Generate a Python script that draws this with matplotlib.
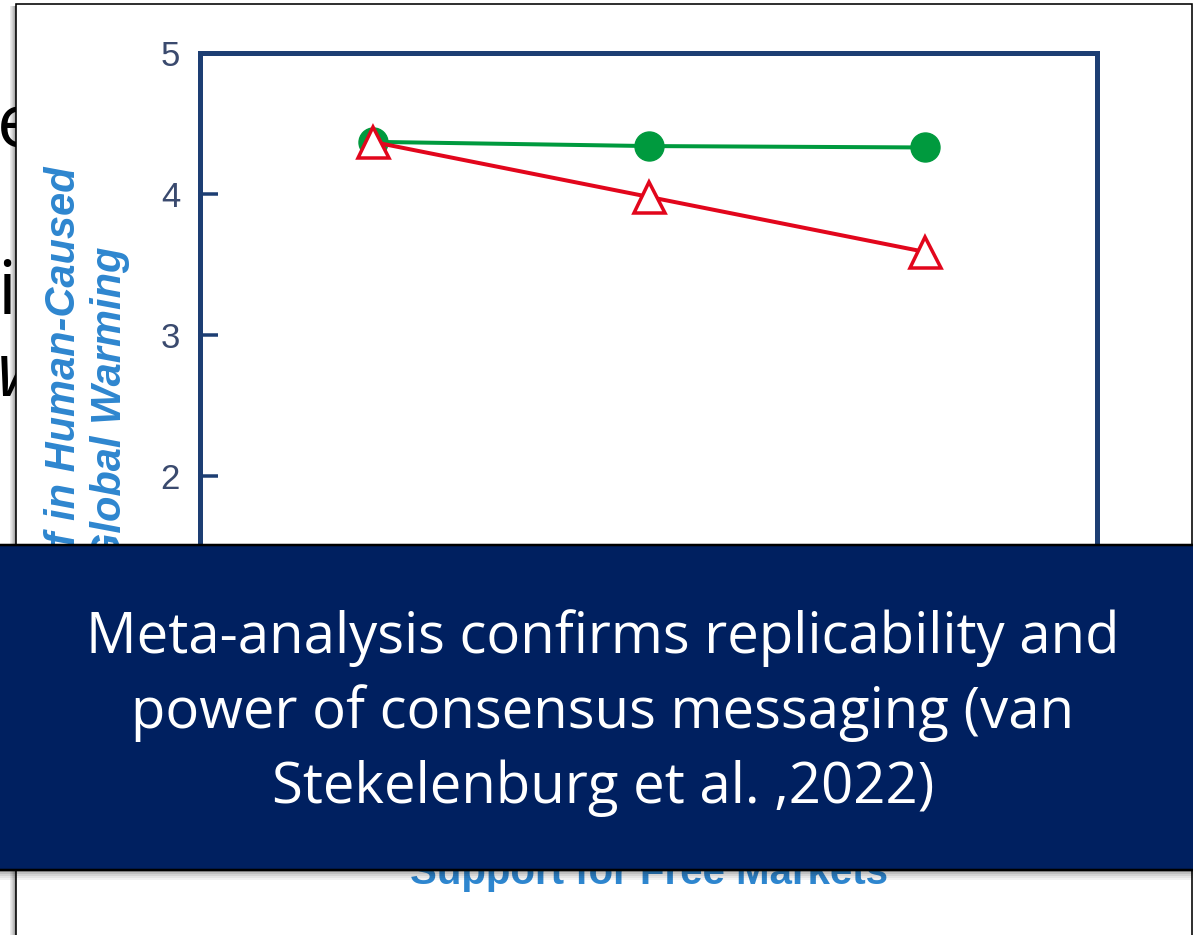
import matplotlib
matplotlib.use("Agg")
import matplotlib.pyplot as plt
from matplotlib.patches import Rectangle

# ---- data ----
categories = ["Low", "Moderate", "High"]
consensus_values = [4.37, 4.34, 4.33]      # green circles
control_values = [4.37, 3.98, 3.59]        # red open triangles
y_ticks = [1, 2, 3, 4, 5]
y_label = "Belief in Human-Caused\nGlobal Warming"
x_label = "Support for Free Markets"
banner_lines = ["Meta-analysis confirms replicability and",
                "power of consensus messaging (van",
                "Stekelenburg et al. ,2022)"]
slide_fragments = [("e", 148, "normal"), ("i", 314, "normal"), ("w", 396, "italic")]

W, H = 1193, 935
fig = plt.figure(figsize=(W / 100, H / 100), dpi=100)
fig.patch.set_facecolor("white")

def fx(px):
    return px / W

def fy(py):
    return 1 - py / H

PT = 0.72  # points per pixel at dpi 100

# slide text behind the picture box
for ch, base, style in slide_fragments:
    fig.text(fx(-3), fy(base), ch, fontsize=54, family="Open Sans", style=style,
             color="black", va="baseline", ha="left", zorder=-3)

# shadow of the picture box
for i, a in enumerate([0.08, 0.12, 0.18, 0.25, 0.32, 0.4]):
    fig.patches.append(Rectangle((fx(10 + i), -0.05), fx(1), fy(6) + 0.05,
                                 transform=fig.transFigure, facecolor="black",
                                 alpha=a, edgecolor="none", zorder=-2.5))
# picture box
fig.patches.append(Rectangle((fx(16), -0.05), fx(1192 - 16), fy(4) + 0.05,
                             transform=fig.transFigure, facecolor="white",
                             edgecolor="black", linewidth=1.6 * PT, zorder=-2))

# ---- chart ----
ax = fig.add_axes([fx(200), fy(758), fx(1097) - fx(200), fy(53) - fy(758)])
ax.set_zorder(1)
ax.patch.set_alpha(0)
xs = list(range(len(categories)))

ax.plot(xs, consensus_values, color="#009a3e", linewidth=4 * PT, marker="o",
        markersize=29 * PT, markerfacecolor="#009a3e", markeredgecolor="#009a3e",
        zorder=3)
ax.plot(xs, control_values, color="#e2061c", linewidth=4 * PT, marker="^",
        markersize=31 * PT, markerfacecolor="white", markeredgecolor="#e2061c",
        markeredgewidth=3.5 * PT, zorder=4)

ax.set_xlim(-0.625, 2.625)
ax.set_ylim(0, 5)
ax.set_yticks(y_ticks)
ax.set_xticks(xs)
ax.set_xticklabels(categories)
spine_c = "#1d3e73"
for s in ax.spines.values():
    s.set_color(spine_c)
    s.set_linewidth(5 * PT)
ax.tick_params(axis="both", direction="in", length=18 * PT, width=3.5 * PT,
               color=spine_c, labelsize=25, labelcolor="#3a4a6e", pad=20 * PT)
for lab in ax.get_yticklabels() + ax.get_xticklabels():
    lab.set_family("Liberation Sans")

ax.set_ylabel(y_label, fontsize=30, fontweight="bold", style="italic",
              family="Liberation Sans", color="#2e86cf", linespacing=1.2)
ax.yaxis.set_label_coords((130 - 200) / 897, 0.5)
ax.set_xlabel(x_label, fontsize=29, fontweight="bold", family="Liberation Sans",
              color="#2e86cf", va="baseline")
ax.xaxis.set_label_coords(0.5, (758 - 884) / 705)

# ---- banner ----
for i, a in enumerate([0.35, 0.25, 0.17, 0.1, 0.05]):
    fig.patches.append(Rectangle((-0.01, fy(872 + 2 * i)), 1.02, 2 / H,
                                 transform=fig.transFigure, facecolor="black",
                                 alpha=a, edgecolor="none", zorder=4.9))
fig.patches.append(Rectangle((-0.01, fy(870)), 1.02, fy(545) - fy(870),
                             transform=fig.transFigure, facecolor="#002060",
                             edgecolor="black", linewidth=2.5 * PT, zorder=5))
for line, base in zip(banner_lines, [653, 728, 803]):
    fig.text(fx(603), fy(base), line, fontsize=40.5, family="Open Sans",
             color="white", ha="center", va="baseline", zorder=6)

fig.savefig("out.png", dpi=100)
